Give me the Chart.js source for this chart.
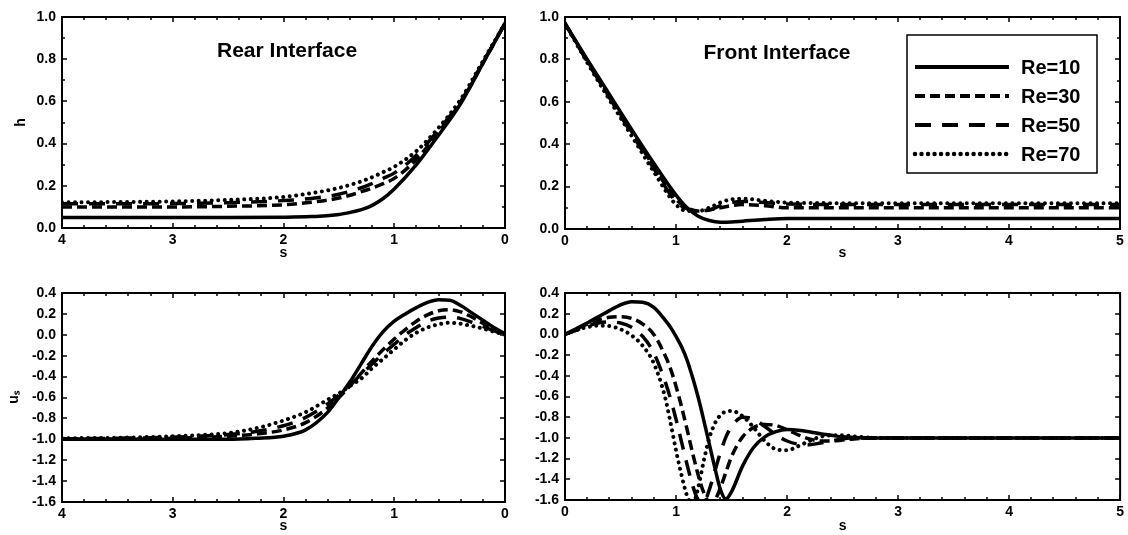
<!DOCTYPE html>
<html>
<head>
<meta charset="utf-8">
<script src="https://cdn.jsdelivr.net/npm/chart.js@4.4.1/dist/chart.umd.min.js"></script>
<style>
  body { margin: 0; background: #fff; }
  #wrap { position: relative; width: 1128px; height: 535px; overflow: hidden; }
  canvas { position: absolute; }
</style>
</head>
<body>
<div id="wrap">
  <canvas id="rear-h" width="520" height="262" style="left:0;top:0"></canvas>
  <canvas id="front-h" width="608" height="262" style="left:520px;top:0"></canvas>
  <canvas id="rear-u" width="520" height="273" style="left:0;top:262px"></canvas>
  <canvas id="front-u" width="608" height="273" style="left:520px;top:262px"></canvas>
</div>
<script>
// series names, same order in every panel
const seriesLabels = ['Re=10', 'Re=30', 'Re=50', 'Re=70'];

// Rear interface, film thickness h
const sRearH = [4, 3.5, 3, 2.5, 2, 1.75, 1.5, 1.25, 1.1, 1.0, 0.8, 0.6, 0.4, 0.2, 0];
const rearH10 = [0.05, 0.05, 0.05, 0.05, 0.051, 0.054, 0.064, 0.095, 0.14, 0.185, 0.30, 0.44, 0.59, 0.78, 0.97];
const rearH30 = [0.10, 0.10, 0.10, 0.103, 0.11, 0.122, 0.142, 0.18, 0.21, 0.235, 0.325, 0.455, 0.595, 0.78, 0.97];
const rearH50 = [0.115, 0.115, 0.116, 0.12, 0.13, 0.14, 0.16, 0.20, 0.235, 0.26, 0.345, 0.465, 0.60, 0.785, 0.97];
const rearH70 = [0.122, 0.123, 0.126, 0.133, 0.147, 0.165, 0.19, 0.23, 0.265, 0.29, 0.365, 0.475, 0.61, 0.79, 0.97];

// Front interface, film thickness h
const sFrontH = [0, 0.2, 0.4, 0.6, 0.8, 1.0, 1.1, 1.2, 1.3, 1.4, 1.5, 1.6, 1.8, 2.0, 2.5, 3, 4, 5];
const frontH10 = [0.97, 0.80, 0.635, 0.47, 0.31, 0.16, 0.10, 0.06, 0.04, 0.032, 0.033, 0.037, 0.045, 0.05, 0.05, 0.05, 0.05, 0.05];
const frontH30 = [0.97, 0.795, 0.625, 0.46, 0.295, 0.14, 0.10, 0.085, 0.09, 0.10, 0.11, 0.115, 0.11, 0.10, 0.10, 0.10, 0.10, 0.10];
const frontH50 = [0.97, 0.79, 0.62, 0.45, 0.285, 0.13, 0.095, 0.085, 0.09, 0.11, 0.125, 0.13, 0.125, 0.118, 0.115, 0.115, 0.115, 0.115];
const frontH70 = [0.97, 0.785, 0.61, 0.44, 0.27, 0.115, 0.085, 0.085, 0.10, 0.125, 0.14, 0.143, 0.133, 0.125, 0.122, 0.122, 0.122, 0.122];

// Rear interface, velocity u_s
const sRearU = [4, 3.5, 3, 2.5, 2.25, 2.0, 1.8, 1.6, 1.5, 1.4, 1.3, 1.2, 1.1, 1.0, 0.9, 0.8, 0.7, 0.6, 0.5, 0.4, 0.3, 0.2, 0.1, 0];
const rearU10 = [-1.0, -1.0, -1.0, -1.0, -0.99, -0.97, -0.91, -0.74, -0.60, -0.45, -0.28, -0.11, 0.03, 0.13, 0.20, 0.26, 0.31, 0.335, 0.33, 0.28, 0.21, 0.14, 0.07, 0.01];
const rearU30 = [-1.0, -1.0, -0.99, -0.97, -0.95, -0.91, -0.84, -0.70, -0.60, -0.49, -0.37, -0.25, -0.14, -0.04, 0.05, 0.13, 0.19, 0.23, 0.24, 0.22, 0.17, 0.11, 0.05, 0.0];
const rearU50 = [-0.995, -0.99, -0.98, -0.955, -0.925, -0.87, -0.79, -0.66, -0.575, -0.48, -0.38, -0.28, -0.18, -0.09, 0.0, 0.07, 0.13, 0.16, 0.17, 0.155, 0.12, 0.08, 0.04, 0.0];
const rearU70 = [-0.99, -0.985, -0.97, -0.94, -0.895, -0.82, -0.74, -0.62, -0.56, -0.49, -0.42, -0.32, -0.23, -0.14, -0.05, 0.02, 0.07, 0.10, 0.115, 0.105, 0.085, 0.06, 0.03, 0.0];

// Front interface, velocity u_s
const sFrontU = [0, 0.1, 0.2, 0.3, 0.4, 0.5, 0.6, 0.7, 0.8, 0.9, 0.95, 1.0, 1.05, 1.1, 1.15, 1.2, 1.25, 1.3, 1.35, 1.4, 1.45, 1.5, 1.6, 1.7, 1.8, 1.9, 2.0, 2.1, 2.2, 2.3, 2.4, 2.5, 2.6, 2.8, 3.0, 4.0, 5.0];
const frontU10 = [0.0, 0.055, 0.11, 0.17, 0.23, 0.285, 0.315, 0.31, 0.26, 0.14, 0.07, -0.02, -0.12, -0.25, -0.42, -0.61, -0.83, -1.06, -1.29, -1.50, -1.59, -1.52, -1.27, -1.09, -0.99, -0.94, -0.92, -0.925, -0.94, -0.96, -0.975, -0.99, -0.995, -1.0, -1.0, -1.0, -1.0];
const frontU30 = [0.0, 0.05, 0.10, 0.14, 0.165, 0.17, 0.155, 0.10, 0.0, -0.20, -0.33, -0.50, -0.70, -0.92, -1.15, -1.36, -1.53, -1.62, -1.60, -1.48, -1.33, -1.18, -0.99, -0.90, -0.87, -0.88, -0.92, -0.97, -1.01, -1.03, -1.03, -1.02, -1.01, -1.0, -1.0, -1.0, -1.0];
const frontU50 = [0.0, 0.04, 0.08, 0.11, 0.12, 0.11, 0.07, -0.02, -0.18, -0.45, -0.62, -0.82, -1.04, -1.26, -1.46, -1.60, -1.62, -1.50, -1.32, -1.14, -0.99, -0.89, -0.80, -0.82, -0.89, -0.97, -1.03, -1.06, -1.065, -1.05, -1.03, -1.01, -1.0, -1.0, -1.0, -1.0, -1.0];
const frontU70 = [0.0, 0.04, 0.07, 0.085, 0.08, 0.05, -0.01, -0.11, -0.28, -0.60, -0.85, -1.12, -1.36, -1.56, -1.64, -1.48, -1.22, -1.0, -0.86, -0.78, -0.745, -0.74, -0.79, -0.90, -1.03, -1.11, -1.12, -1.08, -1.03, -0.99, -0.975, -0.975, -0.985, -1.0, -1.0, -1.0, -1.0];

// tick values
const sTicksRear = [0, 1, 2, 3, 4];
const sTicksFront = [0, 1, 2, 3, 4, 5];
const hTicks = [0, 0.2, 0.4, 0.6, 0.8, 1.0];
const uTicks = [-1.6, -1.4, -1.2, -1.0, -0.8, -0.6, -0.4, -0.2, 0, 0.2, 0.4];

const lineStyles = [
  { dash: [], width: 3.5, cap: 'butt' },
  { dash: [10, 5], width: 3.5, cap: 'butt' },
  { dash: [16, 11], width: 3.5, cap: 'butt' },
  { dash: [0.01, 6.5], width: 4, cap: 'round' }
];

Chart.defaults.font.family = "'Liberation Sans', Arial, sans-serif";
Chart.defaults.font.size = 14;
Chart.defaults.font.weight = 'bold';
Chart.defaults.color = '#000';
Chart.defaults.animation = false;

function toDatasets(s, series) {
  return series.map((vals, i) => ({
    label: seriesLabels[i],
    data: s.map((sv, k) => ({ x: sv, y: vals[k] })),
    borderColor: '#000',
    backgroundColor: '#000',
    borderWidth: lineStyles[i].width,
    borderDash: lineStyles[i].dash,
    borderCapStyle: lineStyles[i].cap,
    pointRadius: 0,
    cubicInterpolationMode: 'monotone',
    fill: false
  }));
}

// box around the plot area with small ticks pointing inward on all four sides
const framePlugin = {
  id: 'frame',
  afterDatasetsDraw(chart, args, opts) {
    const { ctx, chartArea: a, scales } = chart;
    ctx.save();
    ctx.strokeStyle = '#000';
    ctx.lineWidth = 1.5;
    const drawTicks = (scale, minor, major, horiz) => {
      const n = Math.round((scale.max - scale.min) / minor);
      for (let i = 0; i <= n; i++) {
        const v = scale.min + i * minor;
        const p = Math.round(scale.getPixelForValue(v));
        const r = v / major;
        const len = Math.abs(r - Math.round(r)) < 1e-6 ? 5 : 3;
        ctx.beginPath();
        if (horiz) {
          ctx.moveTo(p, a.bottom); ctx.lineTo(p, a.bottom - len);
          ctx.moveTo(p, a.top); ctx.lineTo(p, a.top + len);
        } else {
          ctx.moveTo(a.left, p); ctx.lineTo(a.left + len, p);
          ctx.moveTo(a.right, p); ctx.lineTo(a.right - len, p);
        }
        ctx.stroke();
      }
    };
    drawTicks(scales.x, opts.xMinor, 1, true);
    drawTicks(scales.y, opts.yMinor, 0.2, false);
    ctx.lineWidth = 2;
    ctx.strokeRect(a.left, a.top, a.right - a.left, a.bottom - a.top);
    ctx.restore();
  }
};

// "Rear Interface" / "Front Interface" text inside the plot
const panelTitlePlugin = {
  id: 'panelTitle',
  afterDraw(chart, args, opts) {
    if (!opts.text) return;
    const { ctx, chartArea: a } = chart;
    ctx.save();
    ctx.font = "bold 21px 'Liberation Sans', Arial, sans-serif";
    ctx.fillStyle = '#000';
    ctx.textAlign = 'center';
    ctx.textBaseline = 'middle';
    ctx.fillText(opts.text, a.left + opts.xFrac * (a.right - a.left), a.top + opts.dy);
    ctx.restore();
  }
};

// boxed legend in the top right panel
const boxLegendPlugin = {
  id: 'boxLegend',
  afterDraw(chart, args, opts) {
    if (!opts.show) return;
    const { ctx, chartArea: a } = chart;
    const w = 190, h = 138;
    const left = a.right - 23 - w, top = a.top + 18;
    ctx.save();
    ctx.strokeStyle = '#000';
    ctx.lineWidth = 1.5;
    ctx.strokeRect(left, top, w, h);
    chart.data.datasets.forEach((ds, i) => {
      const y = top + 32 + i * 29;
      ctx.beginPath();
      ctx.setLineDash(ds.borderDash);
      ctx.lineCap = ds.borderCapStyle;
      ctx.lineWidth = ds.borderWidth + 0.5;
      ctx.moveTo(left + 8, y);
      ctx.lineTo(left + 102, y);
      ctx.stroke();
      ctx.setLineDash([]);
      ctx.font = "bold 20px 'Liberation Sans', Arial, sans-serif";
      ctx.fillStyle = '#000';
      ctx.textBaseline = 'middle';
      ctx.fillText(ds.label, left + 114, y + 1);
    });
    ctx.restore();
  }
};

function yLabel(v) {
  return Math.abs(v) < 1e-9 ? '0.0' : Number(v).toFixed(1);
}

function makeChart(id, cfg) {
  const ctx = document.getElementById(id).getContext('2d');
  return new Chart(ctx, {
    type: 'line',
    data: { datasets: toDatasets(cfg.s, cfg.series) },
    plugins: [framePlugin, panelTitlePlugin, boxLegendPlugin],
    options: {
      responsive: false,
      layout: { padding: { top: cfg.padTop, right: cfg.padRight, left: 0, bottom: 0 } },
      plugins: {
        legend: { display: false },
        tooltip: { enabled: false },
        frame: { xMinor: 0.2, yMinor: cfg.yMinor },
        panelTitle: cfg.title || {},
        boxLegend: { show: !!cfg.legend }
      },
      scales: {
        x: {
          type: 'linear',
          min: cfg.xMin, max: cfg.xMax,
          reverse: !!cfg.reverse,
          afterFit: (scale) => { scale.height = cfg.xHeight; },
          afterBuildTicks: (scale) => { scale.ticks = cfg.xTicks.map(v => ({ value: v })); },
          grid: { display: false, drawTicks: false },
          border: { display: false },
          ticks: { autoSkip: false, maxRotation: 0, padding: 4, callback: (v) => String(Math.round(v)) },
          title: { display: true, text: 's', padding: { top: 0, bottom: 0 }, font: { size: 14, weight: 'bold' } }
        },
        y: {
          type: 'linear',
          min: cfg.yMin, max: cfg.yMax,
          afterFit: (scale) => { scale.width = cfg.yWidth; },
          afterBuildTicks: (scale) => { scale.ticks = cfg.yTicks.map(v => ({ value: v })); },
          grid: { display: false, drawTicks: false },
          border: { display: false },
          ticks: { autoSkip: false, padding: 6, callback: yLabel },
          title: cfg.yTitle
            ? { display: true, text: cfg.yTitle, padding: { top: cfg.yTitlePad, bottom: 0 }, font: { size: 14, weight: 'bold' } }
            : { display: false }
        }
      }
    }
  });
}

makeChart('rear-h', {
  s: sRearH, series: [rearH10, rearH30, rearH50, rearH70],
  xMin: 0, xMax: 4, reverse: true, xTicks: sTicksRear,
  yMin: 0, yMax: 1, yTicks: hTicks, yMinor: 0.1,
  yWidth: 62, xHeight: 34, padTop: 17, padRight: 15,
  yTitle: 'h', yTitlePad: 13,
  title: { text: 'Rear Interface', xFrac: 0.508, dy: 34 }
});

makeChart('front-h', {
  s: sFrontH, series: [frontH10, frontH30, frontH50, frontH70],
  xMin: 0, xMax: 5, xTicks: sTicksFront,
  yMin: 0, yMax: 1, yTicks: hTicks, yMinor: 0.1,
  yWidth: 45, xHeight: 33, padTop: 17, padRight: 8,
  title: { text: 'Front Interface', xFrac: 0.382, dy: 36 },
  legend: true
});

makeChart('rear-u', {
  s: sRearU, series: [rearU10, rearU30, rearU50, rearU70],
  xMin: 0, xMax: 4, reverse: true, xTicks: sTicksRear,
  yMin: -1.6, yMax: 0.4, yTicks: uTicks, yMinor: 0.2,
  yWidth: 62, xHeight: 33, padTop: 31, padRight: 15,
  yTitle: 'uₛ', yTitlePad: 6
});

makeChart('front-u', {
  s: sFrontU, series: [frontU10, frontU30, frontU50, frontU70],
  xMin: 0, xMax: 5, xTicks: sTicksFront,
  yMin: -1.6, yMax: 0.4, yTicks: uTicks, yMinor: 0.2,
  yWidth: 45, xHeight: 35, padTop: 31, padRight: 7
});
</script>
</body>
</html>
